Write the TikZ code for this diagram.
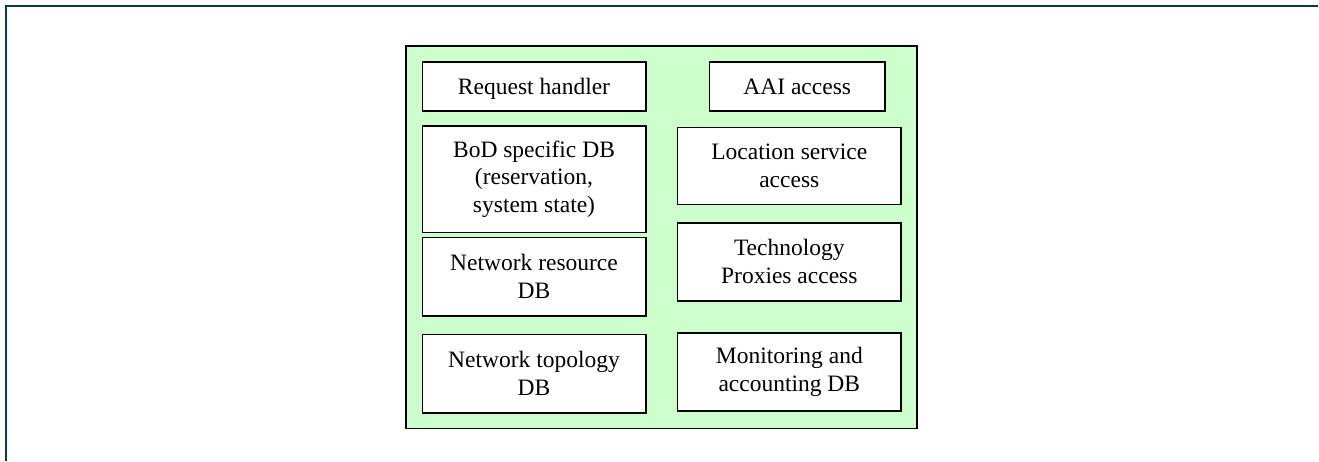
\documentclass[tikz,border=0pt]{standalone}
\usepackage{fontspec}
\setmainfont{Liberation Serif}
\definecolor{framecol}{HTML}{0A3A48}
\definecolor{panelgreen}{HTML}{CCFFCC}
\begin{document}
\begin{tikzpicture}[x=1pt,y=-1pt,
  panel/.style={draw=black, line width=1.6pt, fill=panelgreen, inner sep=0pt},
  module/.style={draw=black, line width=1.6pt, fill=white, inner sep=0pt,
    align=center, font=\fontsize{23.5pt}{27.7pt}\selectfont},
  oneline/.style={text height=16pt, text depth=0pt},
]
\useasboundingbox (0,0) rectangle (1319,461);
% page frame (top and left rules)
\draw[framecol, line width=2pt] (5.5,461) -- (5.5,6) -- (1318,6);
% green container
\node[panel, minimum width=511pt, minimum height=382.6pt] (panel) at (661.2,237) {};
% left column
\node[module, oneline, minimum width=223.4pt, minimum height=49pt] (req) at (534,86.2) {Request handler};
\node[module, minimum width=223.4pt, minimum height=106.6pt] (bod) at (534,179) {BoD specific DB\\(reservation,\\system state)};
\node[module, minimum width=223.4pt, minimum height=78.4pt] (netres) at (534,276.5) {Network resource\\DB};
\node[module, minimum width=223.4pt, minimum height=78.4pt] (nettop) at (534,373.5) {Network topology\\DB};
% right column
\node[module, oneline, minimum width=175.7pt, minimum height=49pt] (aai) at (797.2,86.2) {AAI access};
\node[module, minimum width=223.3pt, minimum height=77pt] (loc) at (789.3,165.8) {Location service\\access};
\node[module, minimum width=223.3pt, minimum height=78pt] (tech) at (789.3,261.7) {Technology\\Proxies access};
\node[module, minimum width=223.3pt, minimum height=78.3pt] (mon) at (789.3,371.9) {Monitoring and\\accounting DB};
\end{tikzpicture}
\end{document}
